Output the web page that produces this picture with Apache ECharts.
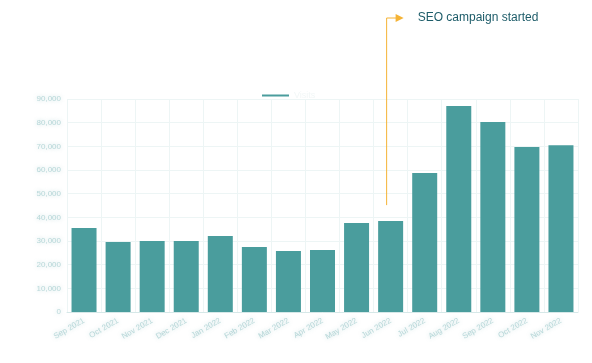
<!DOCTYPE html>
<html><head><meta charset="utf-8">
<script src="https://cdn.jsdelivr.net/npm/echarts@6/dist/echarts.min.js"></script>
<style>html,body{margin:0;padding:0;background:#fff}#c{width:592px;height:363px}</style>
</head><body><div id="c"></div>
<script>
var categories = ['Sep 2021','Oct 2021','Nov 2021','Dec 2021','Jan 2022','Feb 2022','Mar 2022','Apr 2022','May 2022','Jun 2022','Jul 2022','Aug 2022','Sep 2022','Oct 2022','Nov 2022'];
var visits = [35500, 29600, 30000, 30000, 32100, 27500, 25800, 26200, 37600, 38400, 58700, 87000, 80300, 69700, 70500];
var annotationIndex = 9;
var annotationText = 'SEO campaign started';

var chart = echarts.init(document.getElementById('c'));
var blurLabel = {
  color: 'rgba(110,175,178,0.45)',
  textShadowColor: 'rgba(110,175,178,0.9)',
  textShadowBlur: 4,
  fontSize: 8,
  fontFamily: 'Liberation Sans'
};
chart.setOption({
  animation: false,
  legend: {
    left: 257, top: 86,
    itemWidth: 27, itemHeight: 2, icon: 'rect',
    textStyle: {color: 'rgba(230,240,240,0.5)', fontSize: 9},
    data: ['Visits']
  },
  grid: {left: 67, right: 14, top: 99, bottom: 51},
  xAxis: {
    type: 'category', data: categories,
    axisLine: {lineStyle: {color: '#d6e8e8'}},
    axisTick: {show: false},
    splitLine: {show: true, lineStyle: {color: '#edf5f5'}},
    axisLabel: Object.assign({rotate: 30, margin: 8, interval: 0}, blurLabel)
  },
  yAxis: {
    type: 'value', min: 0, max: 90000, interval: 10000,
    axisLine: {show: false}, axisTick: {show: false},
    splitLine: {lineStyle: {color: '#edf5f5'}},
    axisLabel: Object.assign({margin: 6, formatter: function(v){return v.toLocaleString('en-US');}}, blurLabel)
  },
  series: [{
    name: 'Visits', type: 'bar', data: visits,
    barWidth: 25,
    itemStyle: {color: '#4a9d9d'}
  }]
});

var barTop = chart.convertToPixel({xAxisIndex:0, yAxisIndex:0}, [annotationIndex, visits[annotationIndex]]);
var lx = barTop[0] - 4;
var ly1 = barTop[1] - 16;
var ly2 = 18;
chart.setOption({
  graphic: [
    {type: 'polyline', shape: {points: [[lx, ly1], [lx, ly2], [lx + 10, ly2]]},
     style: {stroke: '#f5b335', lineWidth: 1, fill: null}},
    {type: 'polygon', shape: {points: [[lx + 9, ly2 - 4], [lx + 17, ly2], [lx + 9, ly2 + 4]]},
     style: {fill: '#f5b335'}},
    {type: 'text', x: lx + 31, y: ly2, style: {text: annotationText, fill: '#1d5c69', fontSize: 12, fontFamily: 'Liberation Sans', verticalAlign: 'middle'}}
  ]
});
</script></body></html>
